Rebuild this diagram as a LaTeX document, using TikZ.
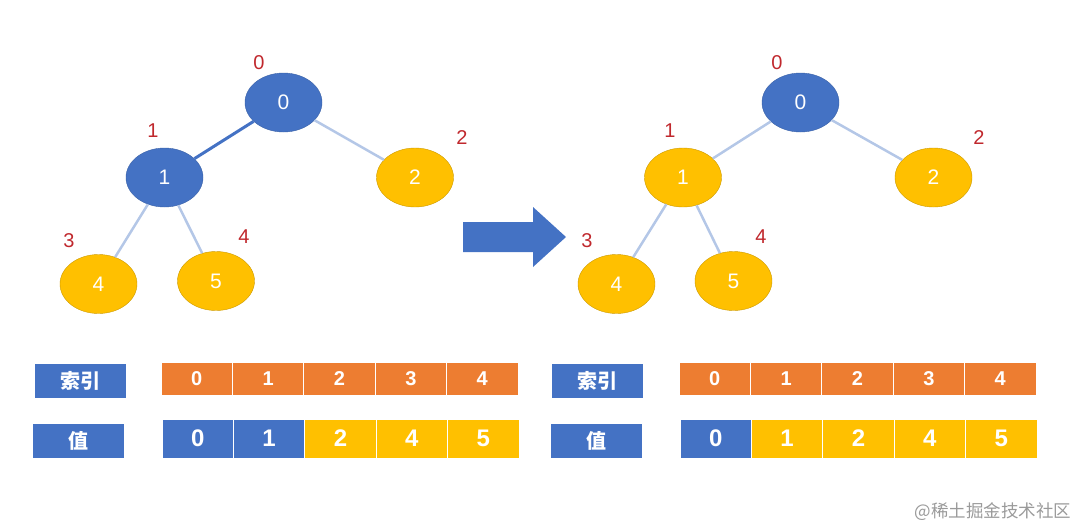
\documentclass[tikz,border=0pt]{standalone}
\usepackage{fontspec}
\setmainfont{Liberation Sans}
\newfontfamily\cjk{Noto Sans CJK SC}
\usetikzlibrary{shapes.geometric}

\definecolor{heapblue}{HTML}{4472C4}
\definecolor{heapgold}{HTML}{FFC000}
\definecolor{heaporange}{HTML}{ED7D31}
\definecolor{idxred}{HTML}{C0282D}
\definecolor{edgelight}{HTML}{B4C7E7}
\definecolor{markgray}{HTML}{9A9A9A}

\tikzstyle{bluenode}=[ellipse, minimum width=77pt, minimum height=59pt, inner sep=0pt, draw=heapblue!85!black, line width=0.4pt, fill=heapblue, text=white, font=\fontsize{21}{25}\selectfont]
\tikzstyle{goldnode}=[ellipse, minimum width=77pt, minimum height=59pt, inner sep=0pt, draw=heapgold!80!black, line width=0.4pt, fill=heapgold, text=white, font=\fontsize{21}{25}\selectfont]
\tikzstyle{index}=[text=idxred, font=\fontsize{20}{24}\selectfont]
\tikzstyle{hot}=[line width=3pt, heapblue]
\tikzstyle{cold}=[line width=2.5pt, edgelight]
\tikzstyle{caption}=[rectangle, minimum width=91pt, minimum height=34pt, inner sep=0pt, fill=heapblue, text=white, font=\cjk\bfseries\fontsize{20}{24}\selectfont]
\tikzstyle{idxcell}=[rectangle, minimum width=71.4pt, minimum height=33pt, inner sep=0pt, draw=white, line width=1pt, fill=heaporange, text=white, font=\bfseries\fontsize{20}{24}\selectfont]
\tikzstyle{bluecell}=[rectangle, minimum width=71.4pt, minimum height=39pt, inner sep=0pt, draw=white, line width=1pt, fill=heapblue, text=white, font=\bfseries\fontsize{24}{28}\selectfont]
\tikzstyle{goldcell}=[bluecell, fill=heapgold]

\begin{document}
\begin{tikzpicture}[x=1pt, y=-1pt]
\useasboundingbox (0,0) rectangle (1080,528);

% heap before
\node(a0)[bluenode] at (283.5,102.5){0};
\node(a1)[bluenode] at (164.5,177.5){1};
\node(a2)[goldnode] at (415,177.5){2};
\node(a3)[goldnode] at (98.5,284){4};
\node(a4)[goldnode] at (216,281){5};

\node(ai0)[index] at (259,63){0};
\node(ai1)[index] at (153,131){1};
\node(ai2)[index] at (462,138){2};
\node(ai3)[index] at (69,241){3};
\node(ai4)[index] at (244,237){4};

% heap after
\node(b0)[bluenode] at (800.5,102.5){0};
\node(b1)[goldnode] at (683,177.5){1};
\node(b2)[goldnode] at (933.5,177.5){2};
\node(b3)[goldnode] at (616.5,284){4};
\node(b4)[goldnode] at (733.5,281){5};

\node(bi0)[index] at (777,63){0};
\node(bi1)[index] at (670,131){1};
\node(bi2)[index] at (979,138){2};
\node(bi3)[index] at (587,241){3};
\node(bi4)[index] at (761,237){4};

% edges
\draw[hot](a0)--(a1);
\draw[cold](a0)--(a2);
\draw[cold](a1)--(a3);
\draw[cold](a1)--(a4);
\draw[cold](b0)--(b1);
\draw[cold](b0)--(b2);
\draw[cold](b1)--(b3);
\draw[cold](b1)--(b4);

% big arrow
\fill[heapblue] (463,222)--(533,222)--(533,207)--(566,237)--(533,267)--(533,252)--(463,252)--cycle;

% arrays before
\node(ak)[caption] at (80.5,381){索引};
\node(av)[caption] at (78.5,441){值};
\node(ak0)[idxcell] at (196.7,378.5){0};
\node(ak1)[idxcell] at (268.1,378.5){1};
\node(ak2)[idxcell] at (339.5,378.5){2};
\node(ak3)[idxcell] at (410.9,378.5){3};
\node(ak4)[idxcell] at (482.3,378.5){4};
\node(av0)[bluecell] at (197.7,438.5){0};
\node(av1)[bluecell] at (269.1,438.5){1};
\node(av2)[goldcell] at (340.5,438.5){2};
\node(av3)[goldcell] at (411.9,438.5){4};
\node(av4)[goldcell] at (483.3,438.5){5};

% arrays after
\node(bk)[caption] at (597.5,381){索引};
\node(bv)[caption] at (596.5,441){值};
\node(bk0)[idxcell] at (714.7,378.5){0};
\node(bk1)[idxcell] at (786.1,378.5){1};
\node(bk2)[idxcell] at (857.5,378.5){2};
\node(bk3)[idxcell] at (928.9,378.5){3};
\node(bk4)[idxcell] at (1000.3,378.5){4};
\node(bv0)[bluecell] at (715.7,438.5){0};
\node(bv1)[goldcell] at (787.1,438.5){1};
\node(bv2)[goldcell] at (858.5,438.5){2};
\node(bv3)[goldcell] at (929.9,438.5){4};
\node(bv4)[goldcell] at (1001.3,438.5){5};

\node(mark)[text=markgray, font=\cjk\fontsize{17.5}{21}\selectfont] at (993,512){@稀土掘金技术社区};

\end{tikzpicture}
\end{document}
